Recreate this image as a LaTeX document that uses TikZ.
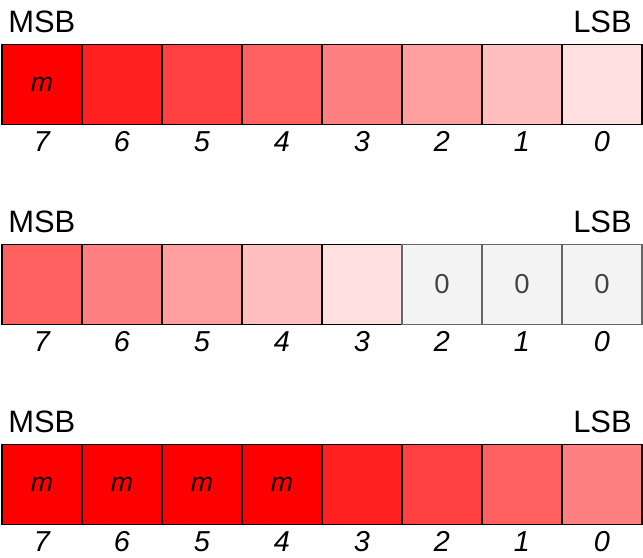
\documentclass[tikz,border=0pt]{standalone}
\usepackage{fontspec}
\setmainfont{Liberation Sans}
\definecolor{zerofill}{HTML}{F4F4F4}
\definecolor{zerodraw}{HTML}{666666}
\definecolor{zerotext}{HTML}{444444}
\tikzset{
    bitbox/.style = {draw, line width = 1.2pt, minimum size = 2cm, inner sep = 0pt,
        font = \fontsize{19}{22}\selectfont\itshape},
    zerobox/.style = {bitbox, draw = zerodraw, fill = zerofill, text = zerotext,
        font = \fontsize{19.5}{22}\selectfont},
    bitnum/.style = {anchor = base, inner sep = 0pt, font = \fontsize{20.5}{24}\selectfont\itshape},
    endlabel/.style = {inner sep = 0pt, font = \fontsize{22}{26}\selectfont}
}

\begin{document}
\begin{tikzpicture}
%\draw [help lines] (0,0) grid (16,14);
    \useasboundingbox (0,0) rectangle (16.075,13.95);
    % row 1
    \node [endlabel, anchor = base west] (msba) at (0.2,13.125) {MSB};
    \node [endlabel, anchor = base east] (lsba) at (15.8,13.125) {LSB};
    \foreach \b/\s/\t in {7/100/m,6/87.5/,5/75/,4/62.5/,3/50/,2/37.5/,1/25/,0/12.5/} {
        \node [bitbox, fill = red!\s] (ra\b) at ({1.05+2*(7-\b)},11.8375) {\t};
        \node [bitnum] (na\b) at ({1.05+2*(7-\b)},10.15) {\b};
    }
    % row 2
    \node [endlabel, anchor = base west] (msbb) at (0.2,8.125) {MSB};
    \node [endlabel, anchor = base east] (lsbb) at (15.8,8.125) {LSB};
    \foreach \b/\s in {7/62.5,6/50,5/37.5,4/25,3/12.5} {
        \node [bitbox, fill = red!\s] (rb\b) at ({1.05+2*(7-\b)},6.8375) {};
    }
    \foreach \b in {2,1,0} {
        \node [zerobox] (rb\b) at ({1.05+2*(7-\b)},6.8375) {0};
    }
    \foreach \b in {7,...,0} {
        \node [bitnum] (nb\b) at ({1.05+2*(7-\b)},5.15) {\b};
    }
    % row 3
    \node [endlabel, anchor = base west] (msbc) at (0.2,3.125) {MSB};
    \node [endlabel, anchor = base east] (lsbc) at (15.8,3.125) {LSB};
    \foreach \b/\s/\t in {7/100/m,6/100/m,5/100/m,4/100/m,3/87.5/,2/75/,1/62.5/,0/50/} {
        \node [bitbox, fill = red!\s] (rc\b) at ({1.05+2*(7-\b)},1.8375) {\t};
        \node [bitnum] (nc\b) at ({1.05+2*(7-\b)},0.15) {\b};
    }
\end{tikzpicture}
\end{document}
